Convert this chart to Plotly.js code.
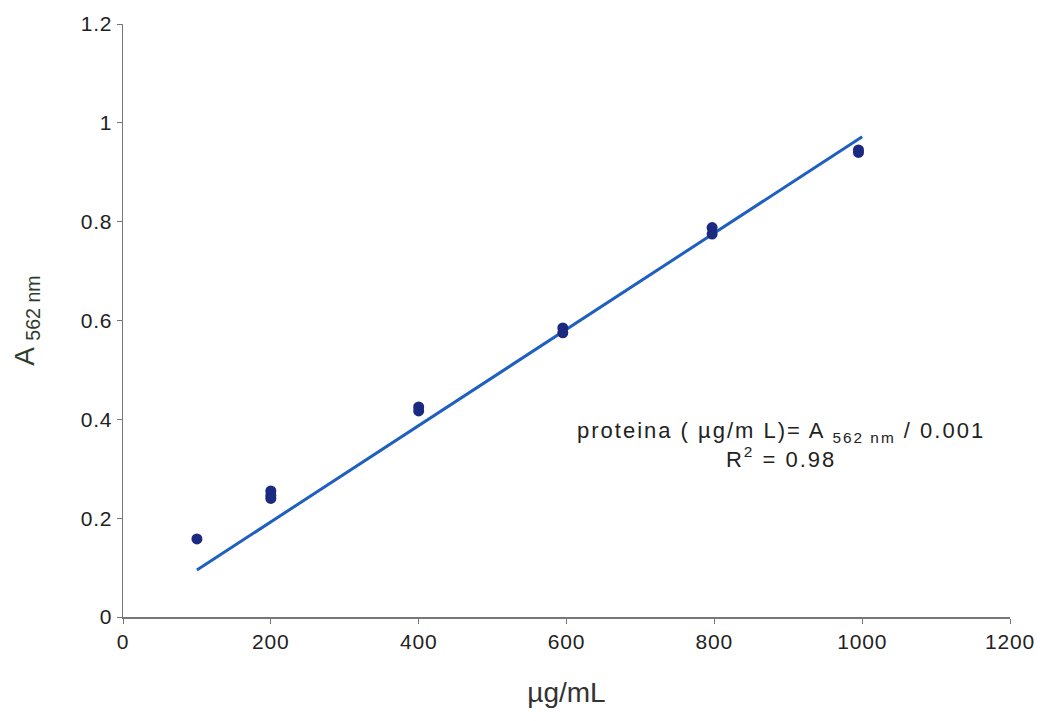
<!DOCTYPE html>
<html>
<head>
<meta charset="utf-8">
<script src="https://cdn.plot.ly/plotly-3.0.1.min.js"></script>
<style>html,body{margin:0;padding:0;background:#fff;}#chart{width:1043px;height:721px;}
.annotation-text{letter-spacing:2px;}
.xtick text,.ytick text{letter-spacing:0.8px;}</style>
</head>
<body>
<div id="chart"></div>
<script>
const concX = [100, 200, 200, 200, 400, 400, 595, 595, 797, 797, 995, 995];
const absY  = [0.158, 0.255, 0.246, 0.240, 0.425, 0.417, 0.585, 0.575, 0.788, 0.775, 0.945, 0.940];
const fitX = [100, 1000];
const fitY = [0.095, 0.972];
const xTicks = [0, 200, 400, 600, 800, 1000, 1200];
const yTicks = [0, 0.2, 0.4, 0.6, 0.8, 1, 1.2];
const yTickText = ['0', '0.2', '0.4', '0.6', '0.8', '1', '1.2'];

const data = [
  {x: fitX, y: fitY, type: 'scatter', mode: 'lines',
   line: {color: '#1f5fbf', width: 3}, hoverinfo: 'skip'},
  {x: concX, y: absY, type: 'scatter', mode: 'markers',
   marker: {color: '#1b2a80', size: 11, line: {width: 0}}}
];

const layout = {
  width: 1043, height: 721,
  margin: {l: 123, r: 33, t: 24, b: 104},
  paper_bgcolor: '#fff', plot_bgcolor: '#fff',
  showlegend: false,
  font: {family: 'Liberation Sans', color: '#333', size: 20},
  xaxis: {
    range: [0, 1200], tickvals: xTicks, ticktext: xTicks.map(String),
    showgrid: false, zeroline: false, showline: true, linecolor: '#777', linewidth: 1.5,
    ticks: 'outside', ticklen: 5, tickcolor: '#777',
    tickfont: {family: 'Liberation Sans', size: 21, color: '#222'},
    title: {text: 'µg/mL', font: {family: 'Liberation Sans', size: 28, color: '#333'}, standoff: 30}
  },
  yaxis: {
    range: [0, 1.2], tickvals: yTicks, ticktext: yTickText,
    showgrid: false, zeroline: false, showline: true, linecolor: '#777', linewidth: 1.5,
    ticks: 'outside', ticklen: 5, tickcolor: '#777',
    tickfont: {family: 'Liberation Sans', size: 21, color: '#222'},
    title: {text: 'A <sub>562 nm</sub>', font: {family: 'Liberation Sans', size: 28, color: '#2f3d2f'}, standoff: 38}
  },
  annotations: [{
    xref: 'paper', yref: 'paper', x: 0.742, y: 0.29, xanchor: 'center', yanchor: 'middle',
    showarrow: false, align: 'center',
    text: 'proteina ( µg/m L)= A <sub>562 nm</sub> / 0.001<br>R<sup>2</sup> = 0.98',
    font: {family: 'Liberation Sans', size: 22, color: '#222'}
  }]
};

Plotly.newPlot('chart', data, layout, {displayModeBar: false, staticPlot: true});
</script>
</body>
</html>
